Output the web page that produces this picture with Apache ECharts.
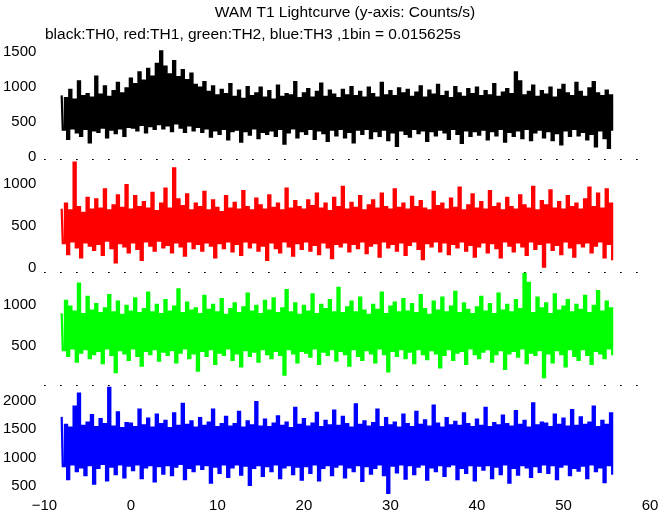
<!DOCTYPE html>
<html><head><meta charset="utf-8">
<script src="https://cdn.jsdelivr.net/npm/echarts@6/dist/echarts.min.js"></script>
<style>html,body{margin:0;padding:0;background:#fff}#c{width:672px;height:515px}</style>
</head><body><div id="c"></div>
<script>
// time of first bin (s) and plotted bin step (s)
const t0 = -8;
const binStep = 0.25;

// TH0 (black), counts/s
const th0 = [
880,390,840,260,960,410,820,350,1080,300,870,400,900,210,850,380,
1150,360,890,420,1010,280,860,390,940,340,1060,410,910,300,980,430,
1120,420,1040,380,1210,460,1090,350,1260,440,1150,400,1330,470,1510,410,
1290,450,1180,370,1370,480,1140,420,1240,360,1100,450,1190,380,1030,430,
990,360,1070,410,930,290,1010,380,880,330,960,400,900,250,1040,370,
860,390,950,220,830,370,1000,320,870,410,910,270,990,360,850,330,
940,380,820,300,1020,400,860,190,900,350,880,410,1070,280,840,370,
910,330,970,400,850,260,930,380,1050,340,860,230,950,390,890,310,
840,400,960,280,880,360,1000,210,870,390,930,330,850,400,990,270,
900,370,850,300,1060,390,880,240,940,350,870,160,980,380,910,330,
960,290,860,400,920,340,1010,380,850,230,950,370,890,310,1030,390,
870,350,930,260,840,400,1000,330,910,200,860,380,970,300,900,370,
990,320,870,390,940,250,880,370,1040,310,860,400,920,220,970,360,
900,300,1210,380,1080,270,880,400,930,240,1020,350,860,390,940,280,
890,370,990,240,850,340,960,180,1030,380,910,300,870,400,1060,310,
930,360,860,250,980,330,1070,150,910,380,870,270,950,130,880,390
];
// TH1 (red)
const th1 = [
700,290,760,160,680,310,1250,240,720,120,650,300,830,260,690,210,
810,280,700,150,930,320,680,230,740,60,860,290,710,250,980,180,
690,300,850,220,720,90,780,310,700,260,890,200,670,320,760,240,
940,270,700,180,1180,300,810,250,730,140,870,310,680,230,760,280,
720,200,900,300,680,260,800,120,710,290,660,230,850,310,700,190,
770,280,690,150,910,310,720,240,680,300,820,200,740,260,690,90,
860,300,710,230,760,180,680,310,940,250,700,140,790,290,720,220,
690,310,800,200,730,270,880,160,700,300,760,240,670,110,830,280,
720,250,960,300,690,190,770,280,710,230,850,310,680,170,740,260,
800,290,700,130,880,310,720,240,690,280,930,200,710,300,760,150,
690,270,840,310,720,220,790,100,700,290,680,250,900,310,730,190,
760,300,690,160,820,280,710,240,950,310,680,200,740,270,870,130,
700,250,780,300,690,180,910,290,720,230,760,120,680,310,830,260,
720,190,690,300,860,250,740,150,700,310,960,220,680,280,790,10,
740,300,920,210,700,270,780,160,690,310,850,240,720,130,760,290,
690,250,810,300,950,180,720,260,880,310,700,120,930,280,760,100
];
// TH2 (green)
const th2 = [
900,450,1050,380,980,470,920,310,1260,420,890,460,1100,350,930,400,
1010,440,900,290,960,470,1120,390,910,180,1040,450,880,410,990,330,
920,470,1080,380,900,260,950,440,1150,400,910,460,1000,320,890,430,
1060,390,920,450,980,300,1190,420,900,470,1030,350,930,410,960,200,
890,440,1110,380,940,460,1000,280,910,420,1070,390,880,470,950,330,
1020,410,900,250,970,450,1140,380,920,430,990,310,890,460,1050,400,
930,350,1080,440,900,390,960,150,1180,460,910,410,1020,300,880,440,
990,420,920,370,1130,470,890,280,1000,430,950,390,1060,460,910,320,
1210,440,900,400,970,260,1040,460,910,380,1090,330,930,450,880,410,
1000,300,940,470,1150,400,890,190,980,440,1030,380,910,460,1070,350,
920,430,1010,290,900,460,1120,400,950,340,880,450,1040,410,930,240,
1090,390,910,460,980,330,1160,420,900,440,1020,280,940,470,890,400,
970,350,1100,430,920,460,1010,310,890,400,1140,450,930,220,1000,410,
910,440,1060,370,950,470,1380,290,1270,420,900,390,1090,450,960,120,
1020,410,890,300,1130,450,930,400,980,250,1060,460,910,380,1000,330,
940,460,1110,390,900,280,990,440,1170,410,920,350,1040,470,960,400
];
// TH3 (blue)
const th3 = [
1720,850,1580,620,1530,880,1900,760,2130,830,1560,690,1620,870,1750,540,
1540,820,1680,890,1590,600,2230,840,1550,710,1800,880,1520,650,1610,860,
1600,780,1540,880,1850,640,1570,830,1690,870,1530,580,1760,850,1590,720,
1650,870,1520,690,1780,840,1560,890,1950,620,1580,820,1640,760,1530,880,
1700,800,1560,870,1620,560,1850,840,1540,730,1590,880,1720,660,1550,830,
1590,880,1810,700,1530,860,1640,520,1570,820,1980,870,1550,680,1670,850,
1540,760,1600,880,1730,640,1560,830,1620,870,1520,710,1880,840,1580,610,
1680,850,1550,730,1600,880,1790,600,1540,820,1650,870,1570,690,1830,840,
1560,880,1720,650,1590,830,1530,760,1940,870,1580,590,1640,850,1550,720,
1610,820,1850,880,1540,690,1700,380,1570,860,1620,740,1530,880,1760,630,
1590,870,1540,710,1810,840,1580,880,1660,610,1550,830,1920,760,1600,870,
1530,680,1700,850,1570,880,1630,620,1560,820,1780,730,1590,870,1540,600,
1670,860,1560,790,1880,870,1540,640,1610,840,1570,710,1740,880,1590,560,
1550,820,1820,700,1580,870,1650,830,1530,660,1960,850,1570,750,1620,880,
1600,730,1540,870,1760,620,1580,840,1690,880,1550,690,1840,820,1560,770,
1710,860,1580,640,1620,880,1900,760,1540,830,1650,570,1580,870,1780,720
];

const seriesValues = [th0, th1, th2, th3];
const seriesNames = ['TH0', 'TH1', 'TH2', 'TH3'];
const xTickValues = [-10, 0, 10, 20, 30, 40, 50, 60];
const yTickValues = [[0, 500, 1000, 1500], [0, 500, 1000], [500, 1000], [500, 1000, 1500, 2000]];
const yMin = [-29, -54, 24, 359];
const yMax = [1586, 1292, 1402, 2282];
const titleText = 'WAM T1 Lightcurve (y-axis: Counts/s)';
const subtitleText = 'black:TH0, red:TH1, green:TH2, blue:TH3 ,1bin = 0.015625s';

const colors = ['#000000', '#ff0000', '#00ff00', '#0000ff'];
const panelTops = [46, 159, 272, 385];
const panelHeights = [113, 113, 113, 109];
const FONT = '"Liberation Sans", Arial, Helvetica, sans-serif';

const chart = echarts.init(document.getElementById('c'), null, {renderer: 'canvas'});
const grid = [], xAxis = [], yAxis = [], series = [];
for (let i = 0; i < 4; i++) {
  grid.push({left: 44, right: 22, top: panelTops[i], height: panelHeights[i], containLabel: false});
  xAxis.push({
    gridIndex: i, type: 'value', min: -10, max: 60, interval: 10,
    axisLine: {show: i < 3, onZero: false, lineStyle: {color: '#000', width: 1, type: [1, 15]}},
    axisTick: {show: false}, splitLine: {show: false},
    axisLabel: {show: i === 3, color: '#000', fontSize: 15, fontFamily: FONT, margin: 4,
      customValues: xTickValues,
      formatter: v => String(v).replace('-', '\u2212')}
  });
  yAxis.push({
    gridIndex: i, type: 'value', min: yMin[i], max: yMax[i], splitNumber: 3,
    axisLine: {show: false}, axisTick: {show: false}, splitLine: {show: false},
    axisLabel: {color: '#000', fontSize: 15, fontFamily: FONT, margin: 8,
      customValues: yTickValues[i],
      formatter: v => (yTickValues[i].indexOf(v) >= 0 ? String(v) : '')}
  });
  series.push({
    name: seriesNames[i], type: 'line', xAxisIndex: i, yAxisIndex: i,
    data: seriesValues[i].map((v, k) => [t0 + k * binStep, v]),
    step: 'middle',
    showSymbol: false, symbol: 'none', silent: true,
    lineStyle: {color: colors[i], width: 2.2, join: 'miter', cap: 'butt'},
    itemStyle: {color: colors[i]}
  });
}
chart.setOption({
  animation: false,
  backgroundColor: '#ffffff',
  title: [
    {text: titleText, left: 345, top: 5, textAlign: 'center', padding: 0,
     textStyle: {fontSize: 15.5, fontWeight: 'normal', color: '#000', fontFamily: FONT}},
    {text: subtitleText, left: 45, top: 27, padding: 0,
     textStyle: {fontSize: 15.5, fontWeight: 'normal', color: '#000', fontFamily: FONT}}
  ],
  grid, xAxis, yAxis, series
});
</script></body></html>
